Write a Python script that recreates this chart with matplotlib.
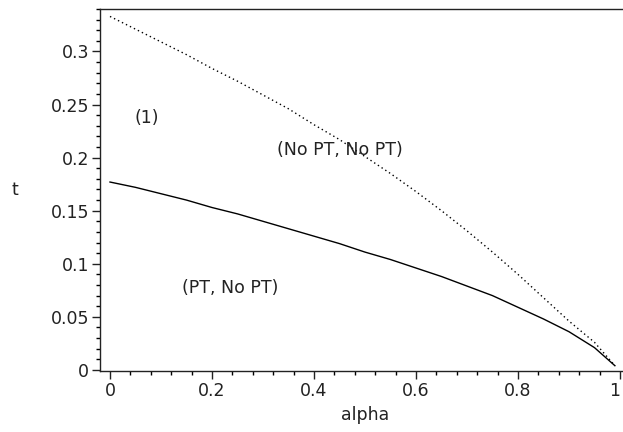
import matplotlib
matplotlib.use("Agg")
import matplotlib.pyplot as plt
from matplotlib.ticker import MultipleLocator

# values
alpha = [0.0, 0.05, 0.1, 0.15, 0.2, 0.25, 0.3, 0.35, 0.4, 0.45, 0.5,
         0.55, 0.6, 0.65, 0.7, 0.75, 0.8, 0.85, 0.9, 0.95, 0.99]
t_dotted = [0.333, 0.321, 0.309, 0.297, 0.284, 0.272, 0.259, 0.246, 0.231, 0.217, 0.201,
            0.185, 0.168, 0.150, 0.131, 0.111, 0.090, 0.068, 0.046, 0.026, 0.004]
t_solid = [0.177, 0.172, 0.166, 0.160, 0.153, 0.147, 0.140, 0.133, 0.126, 0.119, 0.111,
           0.104, 0.096, 0.088, 0.079, 0.070, 0.059, 0.048, 0.036, 0.021, 0.004]

region_labels = ["(1)", "(No PT, No PT)", "(PT, No PT)"]
region_x = [0.073, 0.45, 0.235]
region_t = [0.237, 0.207, 0.077]

plt.rcParams['font.family'] = ['DejaVu Sans']

fig = plt.figure(figsize=(6.23, 4.32), dpi=100)
ax = fig.add_axes([100 / 623, 61 / 432, 530 / 623, 362 / 432])

ax.plot(alpha, t_solid, color="black", lw=1.0)
ax.plot(alpha, t_dotted, color="black", lw=1.0, linestyle=(0, (1, 2.2)))

for s, x, y in zip(region_labels, region_x, region_t):
    ax.text(x, y, s, ha="center", va="center", fontsize=12.5, color="#222222")

ax.set_xlim(-0.0196, 1.0196)
ax.set_ylim(-0.001, 0.34)

ax.xaxis.set_minor_locator(MultipleLocator(0.04))
ax.yaxis.set_minor_locator(MultipleLocator(0.01))
ax.set_xticks([0, 0.2, 0.4, 0.6, 0.8, 1.0])
ax.set_xticklabels(["0", "0.2", "0.4", "0.6", "0.8", "1"])
ax.set_yticks([0, 0.05, 0.1, 0.15, 0.2, 0.25, 0.3])
ax.set_yticklabels(["0", "0.05", "0.1", "0.15", "0.2", "0.25", "0.3"])

ax.tick_params(which="major", direction="out", length=6, width=1, labelsize=12.5,
               colors="#222222", pad=2)
ax.tick_params(which="minor", direction="out", length=3, width=1)
ax.tick_params(top=False, right=False)
# last label sits on the edge of the picture, keep it inside
ax.get_xticklabels()[-1].set_horizontalalignment("right")

for sp in ax.spines.values():
    sp.set_linewidth(1.0)
    sp.set_color("#222222")
ax.spines["right"].set_visible(False)

ax.set_xlabel("alpha", fontsize=12.5, color="#222222", labelpad=4)
ax.set_ylabel("t", fontsize=12.5, color="#222222", rotation=0, va="center")
ax.yaxis.set_label_coords(-0.16, 0.50)

fig.savefig("out.png", dpi=100)
